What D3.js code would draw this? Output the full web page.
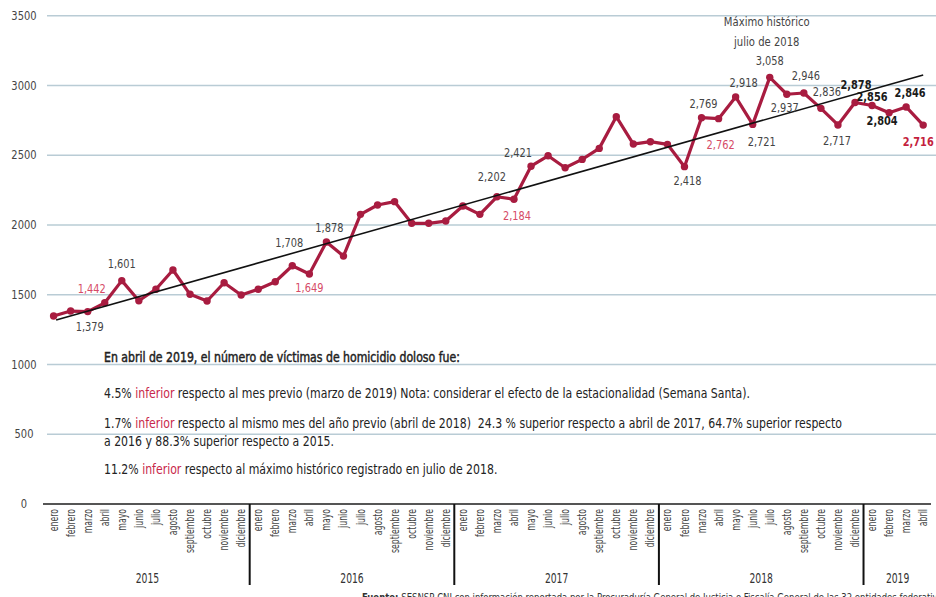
<!DOCTYPE html>
<html>
<head>
<meta charset="utf-8">
<script src="https://cdn.jsdelivr.net/npm/d3@7"></script>
<style>
  body { margin: 0; background: #fff; }
  svg { display: block; font-family: "DejaVu Sans Condensed", "Roboto", sans-serif; }
  .grid line { stroke: #b9ccd5; stroke-width: 1.5; }
  .ytick { fill: #444; font-size: 12px; }
  .month { fill: #444; font-size: 11.5px; }
  .year { fill: #333; font-size: 13.5px; }
  .lbl { fill: #444; font-size: 13px; }
  .lbl.red { fill: #d64a66; }
  .lbl.bold { fill: #1a1a1a; font-weight: bold; }
  .lbl.last { fill: #c41f3e; font-weight: bold; }
  .note { fill: #222; font-size: 13.5px; }
</style>
</head>
<body>
<svg id="chart" width="936" height="597"></svg>
<script>
var months = ["enero", "febrero", "marzo", "abril", "mayo", "junio", "julio", "agosto",
  "septiembre", "octubre", "noviembre", "diciembre"];
var years = ["2015", "2016", "2017", "2018", "2019"];
var monthsPerYear = [12, 12, 12, 12, 4];

// víctimas de homicidio doloso por mes, ene 2015 - abr 2019
var victimas = [
  1347, 1383, 1379, 1442, 1601, 1457, 1539, 1677, 1503, 1455, 1586, 1498,
  1539, 1593, 1708, 1649, 1878, 1777, 2076, 2143, 2167, 2012, 2012, 2028,
  2136, 2076, 2202, 2184, 2421, 2496, 2410, 2470, 2549, 2776, 2580, 2597,
  2578, 2418, 2769, 2762, 2918, 2721, 3058, 2937, 2946, 2836, 2717, 2878,
  2856, 2804, 2846, 2716
];
var yTicks = [0, 500, 1000, 1500, 2000, 2500, 3000, 3500];

// which points carry a value label
var labelled = [2, 3, 4, 14, 15, 16, 26, 27, 28, 37, 38, 39, 40, 41, 42, 43, 44, 45, 46, 47, 48, 49, 50, 51];

var noteLines = [
  [{t: "En abril de 2019, el número de víctimas de homicidio doloso fue:", b: true}],
  [{t: "4.5% "}, {t: "inferior", r: true}, {t: " respecto al mes previo (marzo de 2019) Nota: considerar el efecto de la estacionalidad (Semana Santa)."}],
  [{t: "1.7% "}, {t: "inferior", r: true}, {t: " respecto al mismo mes del año previo (abril de 2018)\u00a0 24.3 % superior respecto a abril de 2017, 64.7% superior respecto"}],
  [{t: "a 2016 y 88.3% superior respecto a 2015."}],
  [{t: "11.2% "}, {t: "inferior", r: true}, {t: " respecto al máximo histórico registrado en julio de 2018."}]
];

var svg = d3.select("#chart");
var fmt = d3.format(",");

var x = d3.scaleLinear().domain([0, victimas.length - 1]).range([53.6, 923.2]);
var y = d3.scaleLinear().domain([0, 3500]).range([504, 15.7]);

// the original type is a narrow face, so squeeze glyphs horizontally
function at(px, py, sx, rot) {
  return "translate(" + px + "," + py + ")" + (rot ? " rotate(" + rot + ")" : "") + " scale(" + sx + ",1)";
}

// gridlines
svg.append("g").attr("class", "grid")
  .selectAll("line")
  .data(yTicks.filter(function(d) { return d > 0; }))
  .enter().append("line")
  .attr("x1", 47).attr("x2", 936)
  .attr("y1", function(d) { return y(d); })
  .attr("y2", function(d) { return y(d); });

svg.append("g")
  .selectAll("text")
  .data(yTicks)
  .enter().append("text")
  .attr("class", "ytick")
  .attr("transform", function(d) { return at(24, y(d), 0.92); })
  .attr("dy", "0.35em")
  .attr("text-anchor", "middle")
  .text(function(d) { return d; });

// base axis
svg.append("line")
  .attr("x1", 43).attr("x2", 931)
  .attr("y1", y(0)).attr("y2", y(0))
  .style("stroke", "#555").style("stroke-width", 2);

// month labels
svg.append("g")
  .selectAll("text")
  .data(victimas)
  .enter().append("text")
  .attr("class", "month")
  .attr("transform", function(d, i) { return at(x(i), y(0) + 5, 0.75, -90); })
  .attr("dy", "0.35em")
  .attr("text-anchor", "end")
  .text(function(d, i) { return months[i % 12]; });

// year separators and year names
var start = 0;
years.forEach(function(yr, k) {
  var n = monthsPerYear[k];
  var mid = start + (n - 1) / 2;
  svg.append("text")
    .attr("class", "year")
    .attr("transform", at(x(mid), 583, 0.76))
    .attr("text-anchor", "middle")
    .text(yr);
  if (k < years.length - 1) {
    svg.append("line")
      .attr("x1", x(start + n - 0.5)).attr("x2", x(start + n - 0.5))
      .attr("y1", y(0)).attr("y2", 585)
      .style("stroke", "#111").style("stroke-width", 2);
  }
  start += n;
});

// red line with dots
var line = d3.line()
  .x(function(d, i) { return x(i); })
  .y(function(d) { return y(d); });

svg.append("path")
  .datum(victimas)
  .attr("d", line)
  .style("fill", "none")
  .style("stroke", "#a81c40")
  .style("stroke-width", 3.2)
  .style("stroke-linejoin", "round");

svg.append("g")
  .selectAll("circle")
  .data(victimas)
  .enter().append("circle")
  .attr("cx", function(d, i) { return x(i); })
  .attr("cy", function(d) { return y(d); })
  .attr("r", 3.7)
  .style("fill", "#a81c40");

// linear trend (least squares)
var n = victimas.length;
var mx = d3.mean(victimas, function(d, i) { return i; });
var my = d3.mean(victimas);
var sxy = d3.sum(victimas, function(d, i) { return (i - mx) * (d - my); });
var sxx = d3.sum(victimas, function(d, i) { return (i - mx) * (i - mx); });
var slope = sxy / sxx;
var icpt = my - slope * mx;

svg.append("line")
  .attr("x1", x(0.15)).attr("y1", y(icpt + slope * 0.15))
  .attr("x2", x(n - 1)).attr("y2", y(icpt + slope * (n - 1)))
  .style("stroke", "#111")
  .style("stroke-width", 1.6);

// value labels (offsets from the point)
var place = {
  2: [2, 15, ""], 3: [-13, -14, "red"], 4: [0, -17, ""],
  14: [-3, -23, ""], 15: [0, 14, "red"], 16: [3, -15, ""],
  26: [-5, -20, ""], 27: [3, 16, "red"], 28: [-13, -14, ""],
  37: [3, 14, ""], 38: [2, -14, ""], 39: [2, 26, "red"],
  40: [8, -14, ""], 41: [9, 17, ""], 42: [0, -17, ""],
  43: [-2, 13, ""], 44: [2, -18, ""], 45: [6, -17, ""],
  46: [-1, 16, ""], 47: [1, -18, "bold"], 48: [0, -9, "bold"],
  49: [-7, 8, "bold"], 50: [4, -14, "bold"], 51: [-5, 16, "last"]
};

svg.append("g")
  .selectAll("text")
  .data(labelled)
  .enter().append("text")
  .attr("class", function(i) { return "lbl " + place[i][2]; })
  .attr("transform", function(i) { return at(x(i) + place[i][0], y(victimas[i]) + place[i][1], 0.84); })
  .attr("dy", "0.35em")
  .attr("text-anchor", "middle")
  .text(function(i) { return fmt(victimas[i]); });

// note on the maximum
var imax = d3.maxIndex(victimas);
svg.append("text").attr("class", "lbl")
  .attr("transform", at(x(imax) - 3, 21, 0.86)).attr("dy", "0.35em")
  .attr("text-anchor", "middle").text("Máximo histórico");
svg.append("text").attr("class", "lbl")
  .attr("transform", at(x(imax) - 3, 41, 0.86)).attr("dy", "0.35em")
  .attr("text-anchor", "middle").text("julio de " + years[Math.floor(imax / 12)]);

// text box
var noteY = [357, 393, 423, 441, 469];
noteLines.forEach(function(parts, k) {
  var t = svg.append("text")
    .attr("class", "note")
    .attr("transform", at(104, noteY[k], 0.9))
    .attr("dy", "0.35em");
  parts.forEach(function(p) {
    t.append("tspan")
      .style("fill", p.r ? "#c8284a" : null)
      .style("stroke", p.b ? "#222" : null)
      .style("stroke-width", p.b ? 0.45 : null)
      .text(p.t);
  });
});

// source (cut at the bottom edge)
var src = svg.append("text")
  .attr("transform", at(362, 601, 0.9))
  .style("font-size", "10.5px").style("fill", "#333");
src.append("tspan").style("font-weight", "bold").text("Fuente: ");
src.append("tspan").text("SESNSP-CNI con información reportada por la Procuraduría General de Justicia o Fiscalía General de las 32 entidades federativas");
</script>
</body>
</html>
